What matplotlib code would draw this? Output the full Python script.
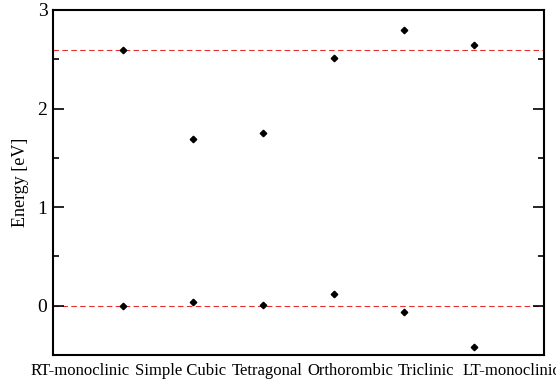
import matplotlib
matplotlib.use('Agg')

import matplotlib.pyplot as plt
from matplotlib.ticker import MultipleLocator

# ── 데이터 ──────────────────────────────────────────────────────────────────
phases = ['RT-monoclinic', 'Simple Cubic', 'Tetragonal',
          'Orthorombic', 'Triclinic', 'LT-monoclinic']
upper_energy = [2.59, 1.69, 1.75, 2.51, 2.80, 2.64]
lower_energy = [0.00, 0.035, 0.007, 0.12, -0.067, -0.42]
ref_upper = 2.59
ref_lower = 0.0

plt.rcParams['font.family'] = ['Liberation Serif', 'DejaVu Serif']

W, H = 556, 383
fig = plt.figure(figsize=(W / 100, H / 100), dpi=100)
ax = fig.add_axes([53 / W, 1 - 355 / H, 491 / W, 345 / H])

xs = list(range(1, len(phases) + 1))

ax.axhline(ref_upper, color='#e83030', linestyle=(0, (5, 3)), linewidth=0.8, zorder=1)
ax.axhline(ref_lower, color='#e83030', linestyle=(0, (5, 3)), linewidth=0.8, zorder=1)

ax.plot(xs, upper_energy, linestyle='none', marker='D', markersize=3.3,
        color='black', zorder=3)
ax.plot(xs, lower_energy, linestyle='none', marker='D', markersize=3.3,
        color='black', zorder=3)

ax.set_xlim(0, len(phases) + 1)
ax.set_ylim(-0.5, 3)
ax.set_xticks(xs)
ax.set_xticklabels([])
ax.yaxis.set_major_locator(MultipleLocator(1))
ax.yaxis.set_minor_locator(MultipleLocator(0.5))
ax.tick_params(axis='x', length=0)
ax.tick_params(axis='y', which='major', direction='in', length=8, width=1.2,
               left=True, right=True, labelsize=14, pad=4)
ax.tick_params(axis='y', which='minor', direction='in', length=4, width=1.2,
               left=True, right=True)
ax.set_ylabel('Energy [eV]', fontsize=13, labelpad=6)

for sp in ax.spines.values():
    sp.set_linewidth(1.5)

# 카테고리 이름: 원본처럼 한 줄로 이어 붙여서 표시 (라벨마다 별도 텍스트)
renderer = fig.canvas.get_renderer()
x_px = 31
for i, name in enumerate(phases):
    t = fig.text(x_px / W, 1 - 371 / H, name, ha='left', va='center', fontsize=12)
    bb = t.get_window_extent(renderer)
    gap = 8 if i == len(phases) - 2 else 5
    x_px = bb.x1 + gap

fig.savefig('out.png', dpi=100)
